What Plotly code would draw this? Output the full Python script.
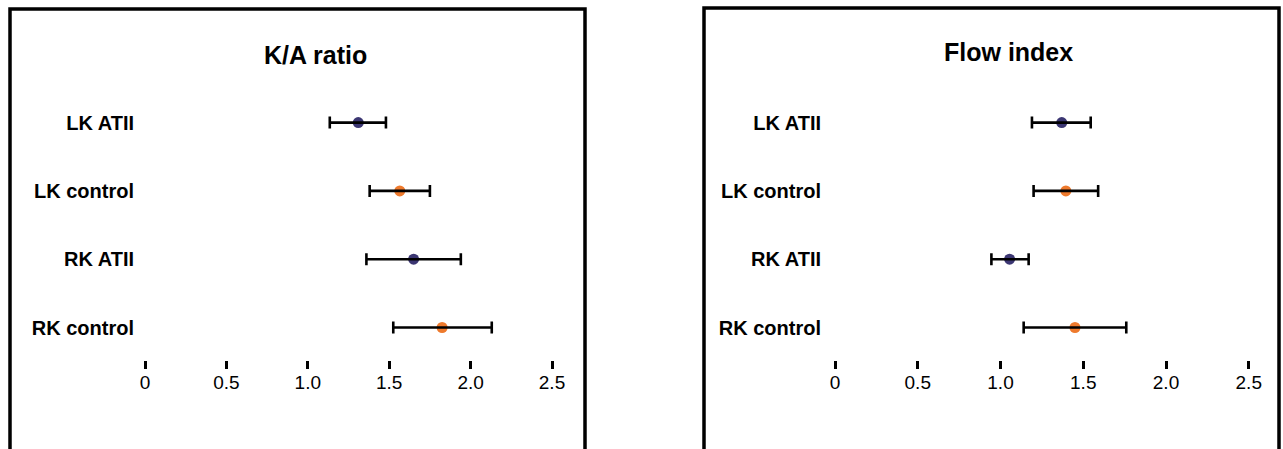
import plotly.graph_objects as go

categories = ["LK ATII", "LK control", "RK ATII", "RK control"]
groups = ["ATII", "control", "ATII", "control"]

ka_mean = [1.31, 1.565, 1.65, 1.825]
ka_low = [1.135, 1.38, 1.36, 1.525]
ka_high = [1.48, 1.75, 1.94, 2.13]

flow_mean = [1.37, 1.395, 1.055, 1.45]
flow_low = [1.19, 1.20, 0.945, 1.14]
flow_high = [1.545, 1.59, 1.17, 1.76]

titles = ["K/A ratio", "Flow index"]
tick_vals = [0, 0.5, 1.0, 1.5, 2.0, 2.5]
tick_text = ["0", "0.5", "1.0", "1.5", "2.0", "2.5"]

group_colors = {"ATII": "#3b3672", "control": "#ee7a2d"}

W, H = 1283, 449
FONT = "Liberation Sans, Arial, Helvetica, sans-serif"

fig = go.Figure()

panels = [
    dict(mean=ka_mean, low=ka_low, high=ka_high, xa="x", ya="y",
         px0=140, px1=570, zero=145, unit=162.8, title_x=315, title_y=55,
         box=(10, 585, 9), standoff=5),
    dict(mean=flow_mean, low=flow_low, high=flow_high, xa="x2", ya="y2",
         px0=830, px1=1265, zero=835, unit=165.5, title_x=1009, title_y=52,
         box=(704, 1279, 8), standoff=8),
]

top_px, bot_px = 90, 360
row0_px, row_step = 327.5, 68.3
yr = [(row0_px - bot_px) / row_step, (row0_px - top_px) / row_step]
cat_order = list(reversed(categories))

shapes = []
annotations = []
for i, p in enumerate(panels):
    colors = [group_colors[g] for g in groups]
    plus = [h - m for h, m in zip(p["high"], p["mean"])]
    minus = [m - l for m, l in zip(p["mean"], p["low"])]
    fig.add_trace(go.Scatter(
        x=p["mean"], y=categories, mode="markers",
        marker=dict(size=11, color=colors),
        xaxis=p["xa"], yaxis=p["ya"], showlegend=False))
    fig.add_trace(go.Scatter(
        x=p["mean"], y=categories, mode="markers",
        marker=dict(size=1, color="rgba(0,0,0,0)"),
        error_x=dict(type="data", symmetric=False, array=plus, arrayminus=minus,
                     color="black", thickness=2.6, width=6),
        xaxis=p["xa"], yaxis=p["ya"], showlegend=False))
    xr = [(p["px0"] - p["zero"]) / p["unit"], (p["px1"] - p["zero"]) / p["unit"]]
    suffix = "" if i == 0 else "2"
    fig.update_layout(**{
        "xaxis" + suffix: dict(
            domain=[p["px0"] / W, p["px1"] / W], range=xr,
            anchor="y" + suffix, tickvals=tick_vals, ticktext=tick_text,
            ticks="outside", ticklen=8, tickwidth=2.5, tickcolor="black",
            ticklabelstandoff=-3,
            showline=False, showgrid=False, zeroline=False,
            tickfont=dict(family=FONT, size=19, color="black")),
        "yaxis" + suffix: dict(
            domain=[1 - bot_px / H, 1 - top_px / H], range=yr,
            anchor="x" + suffix, type="category", categoryorder="array",
            categoryarray=cat_order, showgrid=False, zeroline=False,
            showline=False, ticks="", ticklabelstandoff=p["standoff"],
            tickfont=dict(family=FONT, size=20, color="black", weight="bold")),
    })
    bx0, bx1, by = p["box"]
    shapes.append(dict(type="rect", xref="paper", yref="paper",
                       x0=bx0 / W, x1=bx1 / W, y0=-0.2, y1=1 - by / H,
                       line=dict(color="black", width=3.5)))
    annotations.append(dict(text="<b>" + titles[i] + "</b>", xref="paper", yref="paper",
                            x=p["title_x"] / W, y=1 - p["title_y"] / H,
                            xanchor="center", yanchor="middle", showarrow=False,
                            font=dict(family=FONT, size=25, color="black")))

fig.update_layout(
    width=W, height=H, margin=dict(l=0, r=0, t=0, b=0),
    paper_bgcolor="white", plot_bgcolor="white",
    shapes=shapes, annotations=annotations, showlegend=False)

fig.write_html("out.html", config={"displayModeBar": False},
               post_script="document.body.style.margin='0px';document.body.style.overflow='hidden';")
